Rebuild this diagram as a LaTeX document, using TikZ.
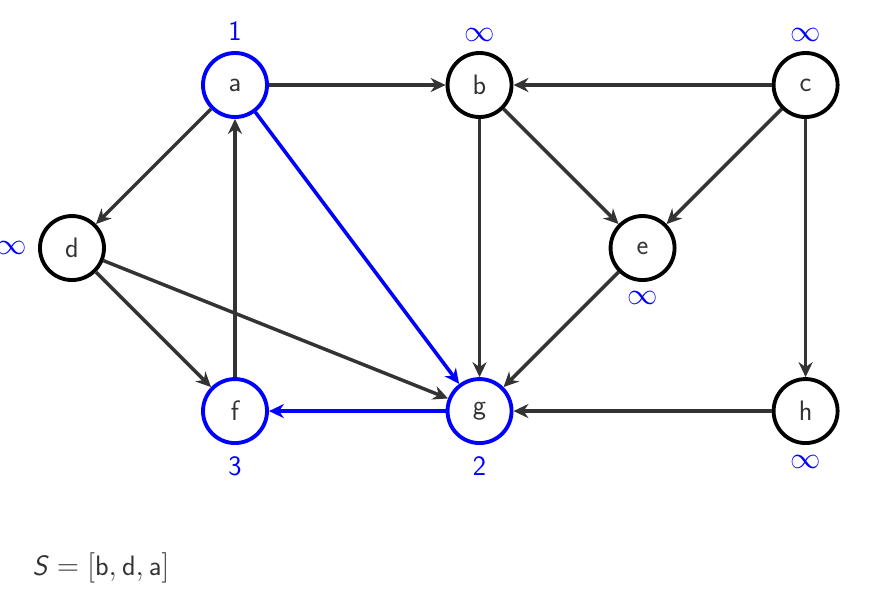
\documentclass[tikz,border=0pt]{standalone}
\usepackage{amsmath,amssymb}
\usepackage{xcolor}
\usetikzlibrary{arrows.meta,positioning}
\definecolor{darkgr}{HTML}{333333}

\begin{document}
\begin{tikzpicture}[
  x=1.63cm, y=1.63cm,
  font=\sffamily\fontsize{16}{19}\selectfont,
  vertex/.style={circle, draw=black, line width=2.2pt, fill=white, text=darkgr,
                 minimum size=1.28cm, inner sep=0pt},
  visited/.style={vertex, draw=blue},
  dist/.style={text=blue, inner sep=0.3em},
  arr/.style={-{Stealth[length=8.5pt,width=8pt]}, line width=2pt, draw=darkgr},
  barr/.style={arr, draw=blue},
]
\useasboundingbox (-0.883,-4.344) rectangle (10.06,3.043);
% vertices
\node[vertex] (d) at (0,0) {d};
\node[visited] (a) at (2,2) {a};
\node[vertex] (b) at (5,2) {b};
\node[vertex] (c) at (9,2) {c};
\node[vertex] (e) at (7,0) {e};
\node[visited] (f) at (2,-2) {f};
\node[visited] (g) at (5,-2) {g};
\node[vertex] (h) at (9,-2) {h};
% distances
\node[dist, above=3pt of a] (da) {1};
\node[dist, above=2.5pt of b] (db) {$\infty$};
\node[dist, above=2.5pt of c] (dc) {$\infty$};
\node[dist, left=3pt of d] (dd) {$\infty$};
\node[dist, below=2pt of e] (de) {$\infty$};
\node[dist, below=3.5pt of f] (df) {3};
\node[dist, below=3.5pt of g] (dg) {2};
\node[dist, below=3pt of h] (dh) {$\infty$};
% edges
\draw[arr] (a) -- (b);
\draw[arr] (c) -- (b);
\draw[arr] (a) -- (d);
\draw[arr] (b) -- (g);
\draw[arr] (b) -- (e);
\draw[arr] (c) -- (e);
\draw[arr] (c) -- (h);
\draw[arr] (d) -- (f);
\draw[arr] (d) -- (g);
\draw[arr] (e) -- (g);
\draw[arr] (f) -- (a);
\draw[arr] (h) -- (g);
\draw[barr] (a) -- (g);
\draw[barr] (g) -- (f);
% stack
\node[anchor=west, text=darkgr] (stack) at (-0.56,-3.93)
  {$\textsf{\textit{S}} = [\textsf{b}, \textsf{d}, \textsf{a}]$};
\end{tikzpicture}
\end{document}
